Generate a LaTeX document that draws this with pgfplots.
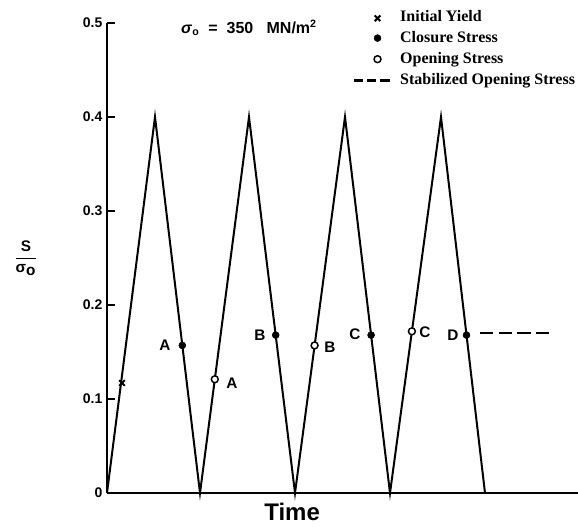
\documentclass[border=0pt]{standalone}
\usepackage{pgfplots}
\pgfplotsset{compat=1.18}
\usepackage{fontspec}
\setmainfont{Liberation Sans}
\newfontfamily\legfont{Liberation Serif}
\begin{document}
\begin{tikzpicture}
\path[use as bounding box] (-80.25pt,-24.75pt) rectangle (353.25pt,369.75pt);
\begin{axis}[
  scale only axis, width=353.25pt, height=352.5pt,
  xmin=0, xmax=471, ymin=0, ymax=0.5,
  axis lines=left,
  axis line style={-, line width=2pt},
  xtick=\empty,
  ytick={0,0.1,0.2,0.3,0.4,0.5},
  /pgf/number format/assume math mode=true,
  yticklabel style={font=\bfseries\fontsize{10.5}{12}\selectfont,
    /pgf/number format/fixed, /pgf/number format/precision=1},
  tick align=inside, major tick length=6pt,
  tick style={line width=1.2pt, black},
  clip=false,
  xlabel={Time},
  xlabel style={at={(0.393,-0.04)}, anchor=center, font=\bfseries\fontsize{18}{20}\selectfont},
  ylabel={$\displaystyle\frac{\textbf{S}}{\textbf{σ}_{\textbf{o}}}$},
  ylabel style={rotate=-90, at={(-0.172,0.5)}, anchor=center, font=\bfseries\fontsize{11.5}{13}\selectfont},
  legend style={draw=none, fill=none, at={(0.52,1.033)}, anchor=north west,
    font=\legfont\bfseries\fontsize{12}{15}\selectfont, row sep=2pt, inner sep=0pt},
  legend cell align=left,
]
\addlegendimage{legend image code/.code={\path[draw=none] (-33pt,0pt) -- (0pt,0pt); \draw[black, line width=1.5pt, only marks, mark=x, mark size=3pt] plot coordinates {(-15pt,-1pt)};}}
\addlegendentry{Initial Yield}
\addlegendimage{legend image code/.code={\path[draw=none] (-33pt,0pt) -- (0pt,0pt); \draw[black, only marks, mark=*, mark size=2.6pt] plot coordinates {(-15pt,0pt)};}}
\addlegendentry{Closure Stress}
\addlegendimage{legend image code/.code={\path[draw=none] (-33pt,0pt) -- (0pt,0pt); \draw[black, only marks, mark=*, mark size=2.6pt, mark options={fill=white, draw=black, line width=1.1pt}] plot coordinates {(-15pt,0pt)};}}
\addlegendentry{Opening Stress}
\addlegendimage{legend image code/.code={\draw[black, line width=2pt, dash pattern=on 7pt off 3pt] (-33pt,0pt) -- (-4pt,0pt);}}
\addlegendentry{Stabilized Opening Stress}

\addplot[black, line width=1.5pt, forget plot] coordinates {(0,0) (48,0.4) (93,0) (142,0.4) (188,0) (238,0.4) (283,0) (334,0.4) (378,0)};
\addplot[only marks, mark=x, mark size=3pt, line width=1.5pt, black, forget plot] coordinates {(15,0.117)};
\addplot[only marks, mark=*, mark size=2.6pt, black, forget plot] coordinates {(75.3,0.157) (168.7,0.168) (264.1,0.168) (359.5,0.168)};
\addplot[only marks, mark=*, mark size=2.6pt, mark options={fill=white, draw=black, line width=1.1pt}, forget plot] coordinates {(107.8,0.121) (207.6,0.157) (304.9,0.172)};
\addplot[black, line width=1.5pt, dash pattern=on 10pt off 4pt, forget plot] coordinates {(373,0.170) (443,0.170)};

\begin{scope}[every node/.style={font=\bfseries\fontsize{11.5}{13}\selectfont}]
\node at (axis cs:58,0.157) {A};
\node at (axis cs:125,0.117) {A};
\node at (axis cs:153,0.168) {B};
\node at (axis cs:223,0.155) {B};
\node at (axis cs:248,0.169) {C};
\node at (axis cs:318,0.171) {C};
\node at (axis cs:346,0.168) {D};
\end{scope}
\node[font=\bfseries\fontsize{12}{14}\selectfont] at (axis cs:142,0.4947) {\textit{σ}\textsubscript{o}\ \ =\ \ 350\ \ \ MN/m\textsuperscript{2}};
\end{axis}
\end{tikzpicture}
\end{document}
